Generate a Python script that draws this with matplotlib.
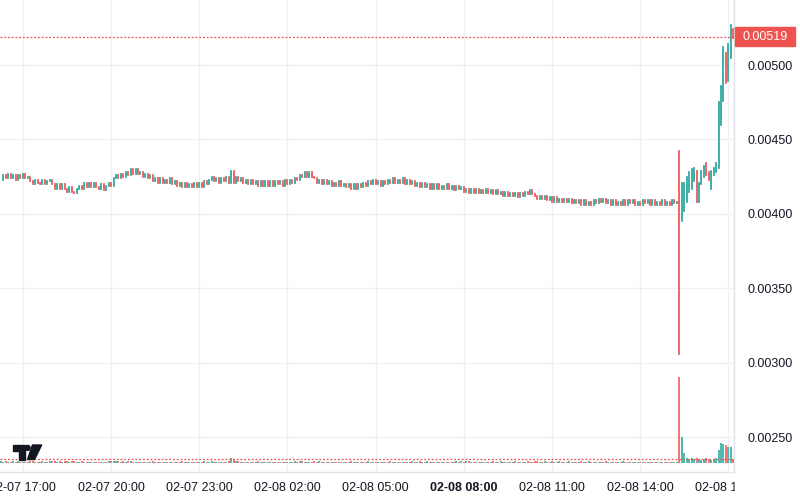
import numpy as np
import pandas as pd
import matplotlib
matplotlib.use('Agg')
from matplotlib import pyplot as plt
from matplotlib.patches import Rectangle, Polygon, Ellipse
from matplotlib.transforms import blended_transform_factory

# 5 minute candles, close price in units of 1e-5 (open = previous close)
flat_close = [
    423, 426, 424, 427, 424, 426, 423, 426, 424, 427,
    424, 425, 422, 420, 423, 421, 420, 423, 420, 422,
    423, 420, 417, 420, 417, 420, 417, 415, 418, 415,
    414, 417, 419, 417, 421, 418, 421, 418, 421, 418,
    417, 420, 416, 419, 421, 419, 424, 426, 424, 427,
    425, 428, 426, 430, 427, 430, 427, 428, 425, 427,
    424, 426, 422, 424, 421, 424, 421, 423, 421, 424,
    420, 422, 419, 421, 418, 421, 418, 420, 418, 421,
    418, 421, 418, 422, 420, 423, 425, 422, 424, 421,
    424, 422, 425, 421, 429, 421, 425, 422, 424, 421,
    423, 420, 423, 420, 422, 419, 422, 419, 422, 419,
    422, 419, 422, 420, 422, 419, 423, 420, 423, 421,
    424, 423, 426, 425, 428, 425, 428, 425, 424, 421,
    423, 420, 423, 420, 422, 419, 421, 419, 422, 419,
    420, 418, 420, 417, 420, 417, 420, 418, 421, 419,
    422, 420, 423, 420, 422, 419, 422, 420, 423, 421,
    424, 421, 423, 421, 424, 420, 423, 420, 422, 419,
    421, 418, 421, 418, 420, 417, 420, 417, 420, 417,
    419, 417, 420, 417, 419, 416, 419, 417, 418, 415,
    417, 414, 417, 414, 417, 414, 416, 414, 417, 414,
    416, 413, 416, 413, 415, 412, 415, 412, 414, 412,
    414, 411, 414, 412, 415, 413, 416, 413, 412, 410,
    412, 410, 412, 409, 411, 408, 411, 408, 410, 408,
    410, 408, 410, 407, 409, 407, 409, 406, 409, 406,
    408, 406, 409, 407, 410, 408, 410, 407, 409, 406,
    409, 406, 408, 406, 409, 406, 409, 407, 409, 406,
    408, 406, 409, 407, 409, 406, 409, 406, 408, 406,
    409, 406, 408, 406, 409, 407, 408,
]

# last candles (the spike), full OHLC
tail_open = [407, 396, 403, 409, 416, 418, 423, 428, 409, 421, 426, 432,
             428, 419, 426, 428, 433, 462, 480, 510, 490, 506, 522]
tail_high = [442, 421, 421, 425, 428, 430, 431, 429, 421, 429, 432, 434,
             428, 429, 431, 434, 475, 486, 512, 508, 514, 527, 524]
tail_low = [306, 395, 402, 408, 415, 417, 422, 408, 408, 420, 425, 426,
            423, 417, 426, 428, 431, 460, 476, 488, 489, 505, 518]
tail_close = [398, 419, 420, 424, 427, 429, 430, 410, 421, 428, 431, 426,
              423, 428, 430, 432, 474, 486, 512, 491, 514, 527, 519]

flat_volume = [
    2, 1.5, 2, 1.5, 1, 2, 1.5, 2, 1.5, 1,
    1.5, 1, 2, 2, 1.5, 1, 1.5, 2, 1, 1.5,
    2, 2, 2.5, 1.5, 2, 1.5, 2, 2.5, 1.5, 2,
    2, 1.5, 1.5, 2, 1.5, 1, 1.5, 1, 1.5, 1,
    1.5, 1, 1.5, 1.5, 2, 2, 2.5, 2.5, 2, 1.5,
    2, 1.5, 2, 2, 1.5, 1.5, 1, 1.5, 1.5, 1,
    1.5, 1.5, 2, 1.5, 1, 1.5, 1, 1, 1.5, 1,
    1.5, 1, 1.5, 1.5, 2, 1.5, 1, 1, 1.5, 1,
    1, 1.5, 1, 2, 1.5, 1.5, 2, 1.5, 1.5, 1,
    1.5, 1, 1.5, 2, 5, 4, 2.5, 2, 1.5, 1,
    1, 1.5, 1, 1.5, 1, 2, 1.5, 1, 1.5, 1,
    1, 1, 1.5, 1, 1.5, 1, 1.5, 1, 1.5, 1,
    2, 1.5, 2, 2, 1.5, 1.5, 1, 1.5, 2, 1.5,
    2, 1.5, 1.5, 1, 1.5, 1, 1.5, 1, 1, 1,
    1.5, 1, 1.5, 2, 1.5, 1.5, 1, 1.5, 1, 1.5,
    2, 1.5, 1, 1.5, 1.5, 1, 1.5, 1, 1.5, 2,
    1, 1.5, 1, 1.5, 1, 1.5, 1, 1.5, 2, 1.5,
    1.5, 2, 1.5, 1.5, 2, 1.5, 1.5, 1, 1.5, 1,
    1, 1.5, 1, 1.5, 1, 1, 2, 1.5, 2, 1.5,
    2, 2, 1.5, 1.5, 1, 1.5, 1, 1.5, 1, 1,
    1.5, 2, 1.5, 1.5, 2, 1.5, 1.5, 1, 1.5, 1.5,
    2, 1.5, 1.5, 1, 1.5, 2, 1.5, 1, 2, 2,
    1.5, 1.5, 2, 1.5, 1.5, 2, 1.5, 1.5, 2, 1.5,
    1, 1.5, 2, 1.5, 1.5, 1, 1.5, 2, 1.5, 1.5,
    2, 1.5, 1.5, 1.5, 1, 1.5, 1, 2, 1.5, 1.5,
    1.5, 1.5, 1, 1.5, 2, 1.5, 1.5, 1, 1.5, 1,
    1, 1.5, 1, 1.5, 1, 1.5, 1.5, 1, 1.5, 1,
    1.5, 1, 1.5, 1, 1.5, 1, 1.5,
]
tail_volume = [86, 26, 10, 5, 4, 5, 4, 5, 4, 3, 4, 5,
               4, 3, 4, 5, 13, 20, 19, 18, 16, 16, 4.5]

start_time = '2024-02-07 16:15'
price_ticks = [0.0025, 0.0030, 0.0035, 0.0040, 0.0045, 0.0050]

TEAL = '#26a69a'
RED = '#ef5350'
GRID = '#eef0f3'
TXT = '#131722'


def build_frame():
    n = len(flat_close)
    close = np.array(flat_close + tail_close, dtype=float) * 1e-5
    opn = np.r_[flat_close[0], flat_close[:-1], tail_open] * 1e-5
    high = np.r_[np.maximum(opn[:n], close[:n]), np.array(tail_high) * 1e-5]
    low = np.r_[np.minimum(opn[:n], close[:n]), np.array(tail_low) * 1e-5]
    df = pd.DataFrame({'open': opn, 'high': high, 'low': low, 'close': close,
                       'volume': flat_volume + tail_volume})
    df.index = pd.date_range(start_time, periods=len(df), freq='5min')
    return df


def px(x, y):
    return (x / 800, 1 - y / 500)


def plot_chart(df, out_path):
    plt.rcParams['font.family'] = ['Liberation Sans', 'DejaVu Sans']
    fig = plt.figure(figsize=(8, 5), dpi=100)
    ax = fig.add_axes([0, 28 / 500, 734 / 800, 472 / 500])

    x = np.arange(len(df))
    colors = np.where(df['close'] >= df['open'], TEAL, RED)

    ax.vlines(x, df['low'], df['high'], colors=colors, lw=1.25,
              capstyle='projecting', zorder=3)

    ax.set_xlim(-0.35, len(df) - 0.7)
    ax.set_ylim(0.002265, 0.005437)

    # time ticks every 3 hours
    tick_idx = [i for i, t in enumerate(df.index) if t.minute == 0 and t.hour % 3 == 2]
    ax.set_xticks(tick_idx)
    ax.set_xticklabels([df.index[i].strftime('%m-%d %H:%M') for i in tick_idx])
    for lab in ax.get_xticklabels():
        if lab.get_text() == '02-08 08:00':
            lab.set_fontweight('bold')

    ax.yaxis.tick_right()
    ax.set_yticks(price_ticks)
    ax.set_yticklabels(['%.5f' % v for v in price_ticks])
    ax.tick_params(axis='both', length=0, labelsize=9, labelcolor=TXT)
    ax.tick_params(axis='x', pad=7)
    ax.tick_params(axis='y', pad=10)
    for lab in ax.get_yticklabels():
        lab.set_horizontalalignment('left')

    ax.grid(color=GRID, lw=1.0)
    ax.set_axisbelow(True)
    for s in ['top', 'left']:
        ax.spines[s].set_visible(False)
    for s in ['right', 'bottom']:
        ax.spines[s].set_color('#e0e3eb')
        ax.spines[s].set_linewidth(1.0)

    # last price line and label
    last = df['close'].iloc[-1]
    ax.axhline(last, color=RED, lw=0.9, ls=(0, (1.5, 1.5)), zorder=4)
    tr = blended_transform_factory(ax.transAxes, ax.transData)
    box_h = 19 / 148.8 * 0.001
    ax.add_patch(Rectangle((1.0015, last - box_h / 2), 60 / 734, box_h,
                           transform=tr, color=RED, clip_on=False, zorder=6))
    ax.text(1.0015 + 30 / 734, last, '%.5f' % last, transform=tr, color='white',
            fontsize=9, ha='center', va='center', clip_on=False, zorder=7)

    # volume overlay
    vax = fig.add_axes([0, 37 / 500, 734 / 800, 100 / 500])
    vax.patch.set_visible(False)
    vax.axis('off')
    vax.vlines(x, 0, df['volume'], colors=colors, lw=1.25, alpha=0.9)
    vax.set_xlim(ax.get_xlim())
    vax.set_ylim(0, 100)
    vax.axhline(df['volume'].iloc[-1], color=RED, lw=0.9, ls=(0, (1.5, 1.5)))

    # cover the cut-off time label under the price scale
    fig.add_artist(Rectangle(px(735, 500), 65 / 800, 27 / 500,
                             transform=fig.transFigure, color='white', zorder=10))

    # logo
    logo = [
        Polygon([px(12.5, 445), px(25, 445), px(25, 459.5), px(18.5, 459.5),
                 px(18.5, 450.7), px(12.5, 450.7)], closed=True),
        Ellipse(px(27.6, 447.9), 5 / 800, 5 / 500),
        Polygon([px(32.5, 445), px(41.7, 445), px(34.5, 459.5), px(27.5, 459.5)], closed=True),
    ]
    for p in logo:
        p.set_transform(fig.transFigure)
        p.set_color(TXT)
        p.set_zorder(11)
        fig.add_artist(p)

    plt.savefig(out_path)


if __name__ == "__main__":
    df = build_frame()
    plot_chart(df, 'out.png')
